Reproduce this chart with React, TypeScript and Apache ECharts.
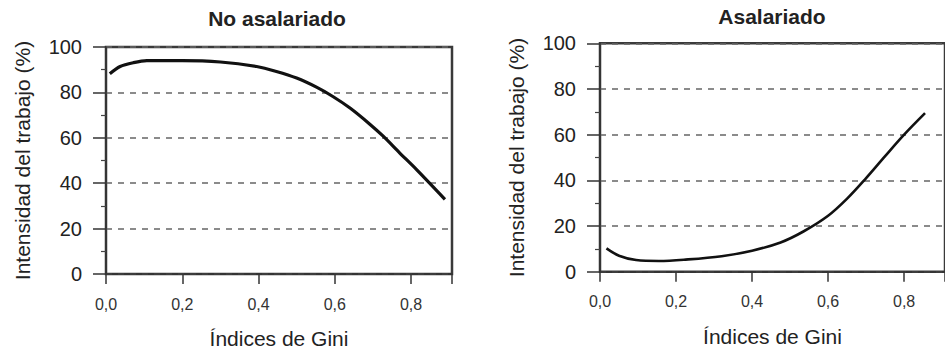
import React, { useEffect, useRef } from "react";
import * as echarts from "echarts";

const titles = ["No asalariado", "Asalariado"];
const xAxisName = "Índices de Gini";
const yAxisName = "Intensidad del trabajo (%)";
const xTickValues = [0, 0.2, 0.4, 0.6, 0.8];

const noAsalariadoGini = [0.01, 0.037, 0.072, 0.107, 0.2, 0.3, 0.395, 0.447, 0.5, 0.552, 0.595, 0.64, 0.692, 0.727, 0.77, 0.814, 0.889];
const noAsalariadoValues = [88.2, 91.4, 93.1, 94.0, 94.0, 93.4, 91.4, 89.2, 86.3, 82.3, 78.2, 73.1, 66.0, 60.7, 53.4, 46.1, 32.9];

const asalariadoGini = [0.017, 0.05, 0.095, 0.155, 0.225, 0.32, 0.4, 0.475, 0.535, 0.6, 0.65, 0.7, 0.75, 0.8, 0.855];
const asalariadoValues = [10.2, 7.0, 5.1, 4.7, 5.3, 6.8, 9.2, 12.8, 17.6, 24.5, 32.0, 41.0, 50.6, 60.0, 69.4];

const FONT = "'Liberation Sans', Arial, Helvetica, sans-serif";
const X_MAX = 0.9075;

export default function App() {
  const ref = useRef<HTMLDivElement>(null);
  useEffect(() => {
    if (!ref.current) return;
    const chart = echarts.init(ref.current, undefined, { renderer: "svg" });
    const grids = [
      { left: 106, top: 47, width: 346, height: 228 },
      { left: 600, top: 43.3, width: 350, height: 228.4 },
    ];
    const option: any = {
      animation: false,
      textStyle: { fontFamily: FONT },
      grid: grids.map((g) => ({
        ...g,
        show: true,
        borderColor: "#3a3a3a",
        borderWidth: 2.5,
        backgroundColor: "transparent",
        containLabel: false,
      })),
      xAxis: [0, 1].map((i) => ({
        type: "value",
        gridIndex: i,
        min: 0,
        max: X_MAX,
        interval: 0.2,
        name: xAxisName,
        nameLocation: "middle",
        nameGap: 54,
        nameTextStyle: { fontSize: 21, color: "#222", fontFamily: FONT },
        axisLine: { show: true, onZero: false, lineStyle: { color: "#333", width: 1.5 } },
        axisTick: { show: true, inside: false, length: 10, lineStyle: { color: "#333", width: 1.5 } },
        axisLabel: {
          customValues: xTickValues,
          margin: 22,
          fontSize: 16,
          color: "#333",
          fontFamily: FONT,
          formatter: (v: number) => v.toFixed(1).replace(".", ","),
        },
        splitLine: { show: false },
      })),
      yAxis: [0, 1].map((i) => ({
        type: "value",
        gridIndex: i,
        min: 0,
        max: 100,
        interval: 20,
        name: yAxisName,
        nameLocation: "middle",
        nameGap: 73,
        nameTextStyle: { fontSize: 21, color: "#222", fontFamily: FONT },
        axisLine: { show: true, onZero: false, lineStyle: { color: "#333", width: 1.5 } },
        axisTick: { show: true, inside: false, length: 13, lineStyle: { color: "#333", width: 1.5 } },
        minorTick: { show: true, splitNumber: 2, length: 5, lineStyle: { color: "#444", width: 1.2 } },
        axisLabel: { margin: 24, fontSize: 20, color: "#222", fontFamily: FONT },
        splitLine: { show: true, lineStyle: { type: [6, 6], color: "#666", width: 1.5 } },
      })),
      graphic: [
        {
          type: "text",
          x: 277,
          y: 18,
          style: { text: titles[0], font: `bold 21px ${FONT}`, fill: "#222", textAlign: "center", textVerticalAlign: "middle" },
        },
        {
          type: "text",
          x: 772,
          y: 16,
          style: { text: titles[1], font: `bold 21px ${FONT}`, fill: "#222", textAlign: "center", textVerticalAlign: "middle" },
        },
      ],
      series: [
        {
          type: "line",
          xAxisIndex: 0,
          yAxisIndex: 0,
          data: noAsalariadoGini.map((g, k) => [g, noAsalariadoValues[k]]),
          smooth: 0.3,
          showSymbol: false,
          lineStyle: { color: "#111", width: 3.2 },
        },
        {
          type: "line",
          xAxisIndex: 1,
          yAxisIndex: 1,
          data: asalariadoGini.map((g, k) => [g, asalariadoValues[k]]),
          smooth: 0.35,
          showSymbol: false,
          lineStyle: { color: "#111", width: 2.6 },
        },
      ],
    };
    chart.setOption(option);
    return () => chart.dispose();
  }, []);
  return (
    <div
      ref={ref}
      style={{ position: "fixed", left: 0, top: 0, width: 945, height: 354, background: "#fff" }}
    />
  );
}
